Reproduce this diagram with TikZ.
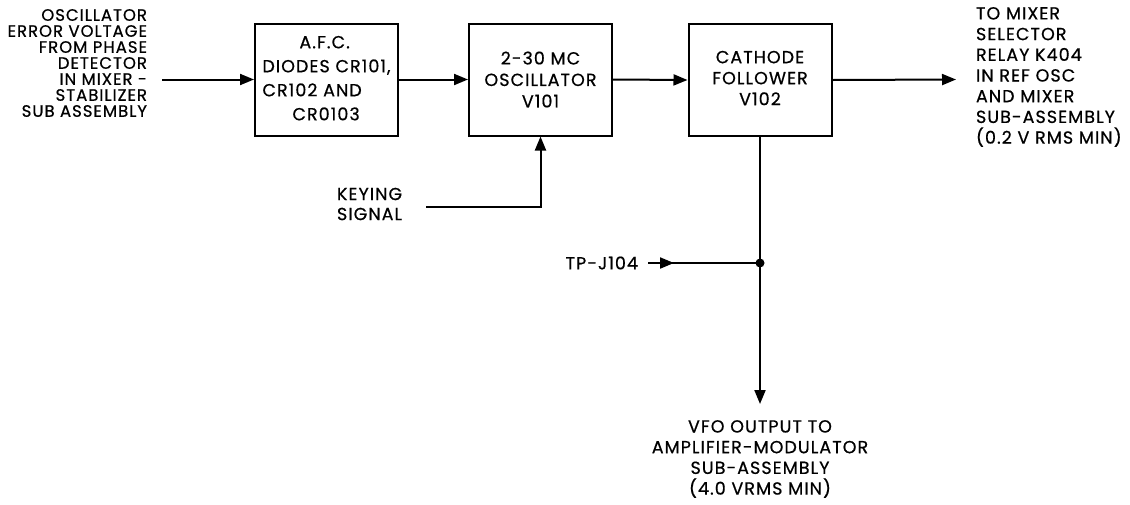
\documentclass[tikz,border=0pt]{standalone}
\usepackage{fontspec}
\setmainfont{Poppins}[LetterSpace=6, FakeBold=0.6]
\usetikzlibrary{arrows.meta,decorations.markings}
\newcommand\difont[1]{\fontsize{17.5}{#1}\selectfont}
\begin{document}
\begin{tikzpicture}[x=1pt,y=-1pt,
  line width=2pt,
  tip/.style={-{Triangle[length=14pt,width=11pt]}},
  block/.style={draw, minimum width=143pt, minimum height=112pt, inner sep=0pt},
  lbl/.style={inner sep=0pt},
  midtip/.style={postaction=decorate, decoration={markings,
     mark=at position 26pt with {\arrow{Triangle[length=14pt,width=11pt]}}}}
]
\useasboundingbox (0,0) rectangle (1130,504);

% blocks
\node[block, font=\difont{24}] (afc) at (326.5,79.5)
  {\raisebox{-4.5pt}{\begin{tabular}{@{}l@{}}\hspace*{37pt}A.F.C.\\DIODES CR101,\\CR102 AND\\\hspace*{30pt}CR0103\end{tabular}}};
\node[block, align=center, font=\difont{21.5}] (osc) at (540.5,79.5)
  {2-30 MC\\OSCILLATOR\\V101};
\node[block, font=\difont{21}] (cf) at (760,80)
  {\raisebox{-4pt}{\begin{tabular}{@{}c@{}}CATHODE\\FOLLOWER\\V102\end{tabular}}};

% labels
\node[lbl, align=right, anchor=east, font={\fontsize{16.5}{16}\selectfont}] (errv) at (148,63)
  {OSCILLATOR\\ERROR VOLTAGE\\FROM PHASE\\DETECTOR\\IN MIXER -\\STABILIZER\\SUB ASSEMBLY};
\node[lbl, align=left, anchor=west, font=\difont{20.7}] (mixer) at (975,77)
  {TO MIXER\\SELECTOR\\RELAY K404\\IN REF OSC\\AND MIXER\\SUB-ASSEMBLY\\(0.2 V RMS MIN)};
\node[lbl, align=left, anchor=west, font=\difont{20}] (key) at (336,204)
  {KEYING\\SIGNAL};
\node[lbl, anchor=east, font=\difont{18}] (tp) at (639,263) {TP-J104};
\node[lbl, align=center, font=\difont{20.7}] (vfo) at (760,459)
  {VFO OUTPUT TO\\AMPLIFIER-MODULATOR\\SUB-ASSEMBLY\\(4.0 VRMS MIN)};

% connector ends
\coordinate (in) at (162,79.5);
\coordinate (out1) at (956,79.5);
\coordinate (k) at (426,207);
\coordinate (tps) at (648,263);
\coordinate (out2) at (760,404);
\node[circle, fill, inner sep=0pt, minimum size=9pt] (dot) at (760,263) {};

% connectors
\draw[tip] (in) -- (afc.west);
\draw[tip] (afc.east) -- (osc.west);
\draw[tip] (osc.east) -- (cf.west);
\draw[tip] (cf.east) -- (out1);
\draw[tip] (k) -| (osc.south);
\draw[tip] (cf.south) -- (out2);
\draw[midtip] (tps) -- (dot.center);
\end{tikzpicture}
\end{document}
